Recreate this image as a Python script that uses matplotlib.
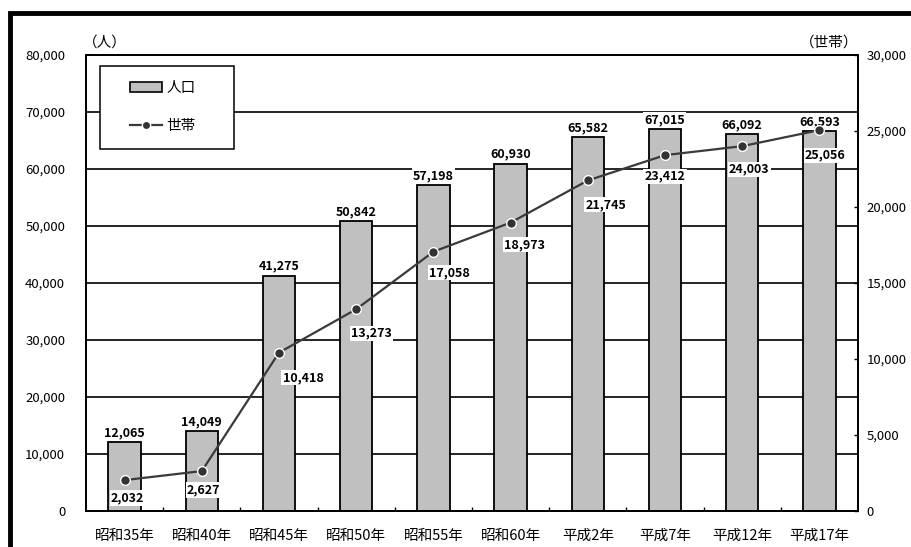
import matplotlib
matplotlib.use("Agg")
import matplotlib.pyplot as plt
from matplotlib.lines import Line2D
from matplotlib.patches import Patch, Rectangle
from matplotlib.ticker import FuncFormatter

plt.rcParams['font.family'] = ['Noto Sans CJK JP', 'DejaVu Sans']

# 国勢調査の人口・世帯数
years = ['昭和35年', '昭和40年', '昭和45年', '昭和50年', '昭和55年',
         '昭和60年', '平成2年', '平成7年', '平成12年', '平成17年']
population = [12065, 14049, 41275, 50842, 57198, 60930, 65582, 67015, 66092, 66593]
households = [2032, 2627, 10418, 13273, 17058, 18973, 21745, 23412, 24003, 25056]

# 世帯数ラベルのずらし量 (pixel)
hh_offsets = [(3, -18), (2, -19), (24, -25), (15, -24), (16, -21),
              (14, -22), (18, -24), (0, -21), (7, -23), (6, -25)]

fig = plt.figure(figsize=(9.11, 5.47), dpi=100)
ax = fig.add_axes([86/911, 36/547, 772/911, 456/547])
ax2 = ax.twinx()

x = range(len(years))
ax.set_axisbelow(True)
ax.yaxis.grid(True, color='black', lw=1.2)
ax.bar(x, population, width=0.42, color='#c0c0c0', edgecolor='black', lw=1.3, zorder=2)
ax.set_xlim(-0.5, len(years) - 0.5)
ax.set_ylim(0, 80000)
ax.set_yticks(range(0, 80001, 10000))
fmt = FuncFormatter(lambda v, p: f'{int(v):,}')
ax.yaxis.set_major_formatter(fmt)
ax.tick_params(axis='y', length=0, pad=15, labelsize=9.5)
ax.set_xticks(list(x))
ax.set_xticklabels(years, fontsize=10.5)
ax.tick_params(axis='x', length=0, pad=13)
ax.set_xticks([i + 0.5 for i in range(len(years) - 1)], minor=True)
ax.tick_params(axis='x', which='minor', direction='in', length=3, width=1)

ax2.plot(x, households, color='#3a3a3a', lw=1.6, marker='o', ms=7,
         mfc='#333333', mec='white', mew=1, zorder=3)
ax2.set_ylim(0, 30000)
ax2.set_yticks(range(0, 30001, 5000))
ax2.yaxis.set_major_formatter(fmt)
ax2.tick_params(axis='y', direction='in', length=3, width=1, pad=6, labelsize=9.5)

for a in (ax, ax2):
    for s in a.spines.values():
        s.set_linewidth(1.4)

box = dict(facecolor='white', edgecolor='none', pad=0.8)
for i, v in enumerate(population):
    ax.annotate(f'{v:,}', (i, v), xytext=(0, 3), textcoords='offset pixels',
                ha='center', va='bottom', fontsize=9, fontweight='bold',
                bbox=box, zorder=5)
for i, v in enumerate(households):
    dx, dy = hh_offsets[i]
    ax2.annotate(f'{v:,}', (i, v), xytext=(dx, dy), textcoords='offset pixels',
                 ha='center', va='center', fontsize=9, fontweight='bold',
                 bbox=box, zorder=5)

ax.text(-0.004, 1.028, '（人）', transform=ax.transAxes, ha='left', va='center', fontsize=10.5)
ax.text(1.0, 1.028, '（世帯）', transform=ax.transAxes, ha='right', va='center', fontsize=10.5)

# 凡例 (枠は別に描く)
ax2.add_patch(Rectangle((0.018, 0.794), 0.1736, 0.182, transform=ax2.transAxes,
                        facecolor='white', edgecolor='black', lw=1.1, zorder=9))
handles = [Patch(facecolor='#c0c0c0', edgecolor='black', lw=1.2),
           Line2D([], [], color='#3a3a3a', lw=1.6, marker='o', ms=6,
                  mfc='#333333', mec='white', mew=1)]
leg = ax2.legend(handles, ['人口', '世帯'], loc='upper left',
                 bbox_to_anchor=(0.057, 0.943), fontsize=10.5, frameon=False,
                 handlelength=2.2, handleheight=0.75, labelspacing=1.65,
                 borderpad=0, handletextpad=0.3, borderaxespad=0)
leg.set_zorder(10)

# 外枠
fig.patches.append(Rectangle((10/911, -0.2), 2, 1.2 - 13/547,
                             transform=fig.transFigure, fill=False,
                             edgecolor='black', lw=3.5, clip_on=False))

fig.savefig('out.png', dpi=100)
